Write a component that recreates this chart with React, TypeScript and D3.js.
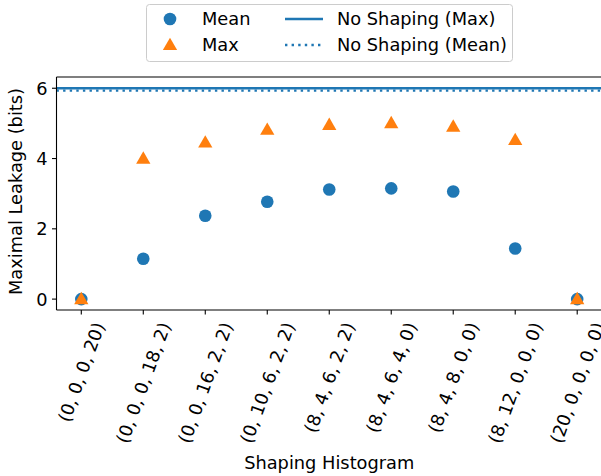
import React from "react";
import * as d3 from "d3";

const categories = [
  "(0, 0, 0, 20)",
  "(0, 0, 0, 18, 2)",
  "(0, 0, 16, 2, 2)",
  "(0, 10, 6, 2, 2)",
  "(8, 4, 6, 2, 2)",
  "(8, 4, 6, 4, 0)",
  "(8, 4, 8, 0, 0)",
  "(8, 12, 0, 0, 0)",
  "(20, 0, 0, 0, 0)",
];
const meanValues = [0, 1.15, 2.37, 2.77, 3.12, 3.15, 3.06, 1.44, 0];
const maxValues = [0, 4.0, 4.46, 4.82, 4.96, 5.01, 4.91, 4.53, 0];
const noShapingMax = 6.0;
const noShapingMean = 5.93;
const yTicks = [0, 2, 4, 6];

const BLUE = "#1f77b4";
const ORANGE = "#ff7f0e";
const FONT = "DejaVu Sans, sans-serif";
const FS = 17.8;

function measure(text: string): number {
  if (typeof document === "undefined") return text.length * FS * 0.6;
  const c = document.createElement("canvas");
  const ctx = c.getContext("2d");
  if (!ctx) return text.length * FS * 0.6;
  ctx.font = `${FS}px "DejaVu Sans"`;
  return ctx.measureText(text).width;
}

export default function App() {
  const W = 601, H = 476;
  const left = 56.5, right = 602, top = 77, bottom = 310;
  const x = d3.scaleLinear().domain([-0.4, 8.4]).range([left, right]);
  const y = d3.scaleLinear().domain([-0.31, 6.32]).range([bottom, top]);
  const tri = d3.symbol().type(d3.symbolTriangle).size(88)();
  const rot = 70 * Math.PI / 180;
  const textH = FS * 1.17;
  const dash = "2.4,4.2";

  return (
    <svg width={W} height={H} style={{ position: "absolute", left: 0, top: 0, fontFamily: FONT }}>
      <rect width={W} height={H} fill="white" />
      <defs>
        <clipPath id="plot">
          <rect x={left} y={top} width={right - left} height={bottom - top} />
        </clipPath>
      </defs>
      <g clipPath="url(#plot)">
        <line x1={left} x2={right} y1={y(noShapingMax)} y2={y(noShapingMax)} stroke={BLUE} strokeWidth={2.3} />
        <line x1={left} x2={right} y1={y(noShapingMean)} y2={y(noShapingMean)} stroke={BLUE} strokeWidth={2.3} strokeDasharray={dash} />
      </g>
      {meanValues.map((v, i) => (
        <circle key={"m" + i} cx={x(i)} cy={y(v)} r={6.3} fill={BLUE} />
      ))}
      {maxValues.map((v, i) => (
        <path key={"x" + i} d={tri!} transform={`translate(${x(i)},${y(v) + 1})`} fill={ORANGE} />
      ))}
      <line x1={left} x2={left} y1={top} y2={bottom} stroke="black" strokeWidth={1.1} />
      <line x1={left} x2={right} y1={bottom} y2={bottom} stroke="black" strokeWidth={1.1} />
      <line x1={left} x2={right} y1={top} y2={top} stroke="black" strokeWidth={1.1} />
      {yTicks.map((t) => (
        <g key={"yt" + t}>
          <line x1={left - 4.5} x2={left} y1={y(t)} y2={y(t)} stroke="black" strokeWidth={1.1} />
          <text x={left - 9} y={y(t)} dy="0.36em" textAnchor="end" fontSize={FS} fill="black">{t}</text>
        </g>
      ))}
      {categories.map((c, i) => {
        const w = measure(c);
        const bh = w * Math.sin(rot) + textH * Math.cos(rot);
        const cy = bottom + 4.5 + 5 + bh / 2;
        return (
          <g key={"xt" + i}>
            <line x1={x(i)} x2={x(i)} y1={bottom} y2={bottom + 4.5} stroke="black" strokeWidth={1.1} />
            <text
              transform={`translate(${x(i)},${cy}) rotate(-70)`}
              textAnchor="middle"
              dy="0.36em"
              fontSize={FS}
              fill="black"
            >{c}</text>
          </g>
        );
      })}
      <text x={(left + right) / 2} y={469} textAnchor="middle" fontSize={FS} fill="black">Shaping Histogram</text>
      <text transform={`translate(22,${(top + bottom) / 2 - 2}) rotate(-90)`} textAnchor="middle" fontSize={FS} fill="black">Maximal Leakage (bits)</text>
      <g>
        <rect x={146.5} y={4.5} width={366} height={57} rx={3} fill="white" fillOpacity={0.8} stroke="#cccccc" />
        <circle cx={170} cy={19} r={6.3} fill={BLUE} />
        <text x={202} y={19} dy="0.36em" fontSize={FS} fill="black">Mean</text>
        <path d={tri!} transform={`translate(170,${46})`} fill={ORANGE} />
        <text x={202} y={45} dy="0.36em" fontSize={FS} fill="black">Max</text>
        <line x1={285} x2={323} y1={19} y2={19} stroke={BLUE} strokeWidth={2.3} />
        <text x={337} y={19} dy="0.36em" fontSize={FS} fill="black">No Shaping (Max)</text>
        <line x1={285} x2={323} y1={45} y2={45} stroke={BLUE} strokeWidth={2.3} strokeDasharray={dash} />
        <text x={337} y={45} dy="0.36em" fontSize={FS} fill="black">No Shaping (Mean)</text>
      </g>
    </svg>
  );
}
